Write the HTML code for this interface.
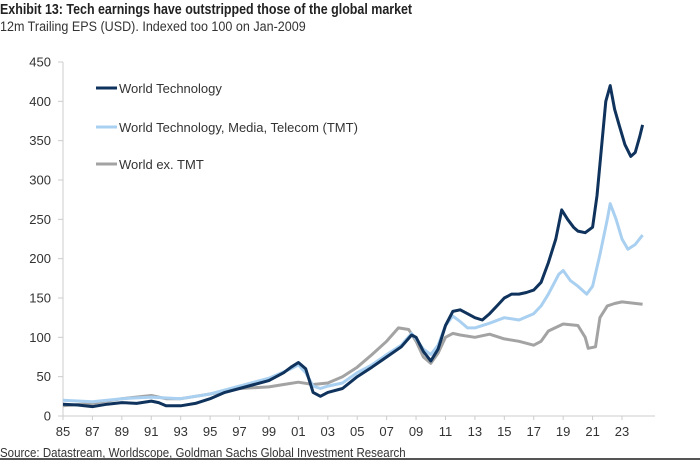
<!DOCTYPE html>
<html><head><meta charset="utf-8"><style>
body{margin:0;background:#fff;width:700px;height:467px;overflow:hidden;font-family:"Liberation Sans",sans-serif}
.t{position:absolute;left:0;white-space:nowrap;transform-origin:0 0}
</style></head><body>
<div class="t" style="top:1px;font-weight:bold;font-size:15px;color:#222;transform:scaleX(0.83)">Exhibit 13: Tech earnings have outstripped those of the global market</div>
<div class="t" style="top:19px;font-size:13.5px;color:#333;transform:scaleX(0.93)">12m Trailing EPS (USD). Indexed too 100 on Jan-2009</div>
<svg id="c" width="700" height="467" style="position:absolute;left:0;top:0"></svg>
<div class="t" style="top:446px;font-size:12.5px;color:#333;transform:scaleX(0.92)">Source: Datastream, Worldscope, Goldman Sachs Global Investment Research</div>
<div style="position:absolute;left:0;top:458px;width:700px;height:2px;background:#555"></div>
<script>
const yTicks=[0,50,100,150,200,250,300,350,400,450];
const xTickYears=[1985,1987,1989,1991,1993,1995,1997,1999,2001,2003,2005,2007,2009,2011,2013,2015,2017,2019,2021,2023];
const xTickLabels=["85","87","89","91","93","95","97","99","01","03","05","07","09","11","13","15","17","19","21","23"];
const techX=[1985,1986,1987,1988,1989,1990,1991,1991.5,1992,1993,1994,1995,1996,1997,1998,1999,2000,2000.5,2001,2001.5,2002,2002.5,2003,2004,2005,2006,2007,2008,2008.7,2009,2009.5,2010,2010.5,2011,2011.5,2012,2012.5,2013,2013.5,2014,2014.5,2015,2015.5,2016,2016.5,2017,2017.5,2018,2018.5,2018.9,2019.3,2019.7,2020,2020.5,2021,2021.3,2021.6,2021.9,2022.2,2022.5,2022.8,2023.2,2023.6,2023.9,2024.2,2024.4];
const techY=[15,14,12,15,17,16,19,17,13,13,16,22,30,35,40,45,55,62,68,60,30,25,30,35,50,62,75,88,103,100,82,70,85,115,133,135,130,125,122,130,140,150,155,155,157,160,170,195,225,262,250,240,235,233,240,280,340,400,420,390,370,345,330,335,355,370];
const tmtX=[1985,1987,1989,1991,1993,1995,1997,1999,2000.5,2001,2001.5,2002,2002.5,2003,2004,2005,2006,2007,2008,2008.7,2009,2009.5,2010,2010.5,2011,2011.5,2012,2012.5,2013,2014,2015,2016,2017,2017.5,2018,2018.7,2019,2019.5,2020,2020.6,2021,2021.5,2022,2022.2,2022.6,2023,2023.4,2023.9,2024.4];
const tmtY=[20,18,22,24,22,28,38,48,60,65,55,38,35,38,42,55,65,78,90,105,98,85,78,90,115,127,120,112,112,118,125,122,130,140,155,180,185,172,165,155,165,205,250,270,250,225,212,218,230];
const exX=[1985,1987,1989,1991,1992,1993,1995,1997,1999,2000,2001,2002,2003,2004,2005,2006,2007,2007.8,2008.5,2009,2009.5,2010,2010.5,2011,2011.5,2012,2013,2014,2015,2016,2017,2017.5,2018,2019,2020,2020.5,2020.7,2021.2,2021.5,2022,2022.5,2023,2024.4];
const exY=[13,16,22,26,22,22,28,35,37,40,43,40,42,50,62,78,95,112,110,95,75,67,80,100,105,103,100,104,98,95,90,95,108,117,115,100,86,88,125,140,143,145,142];
const NS="http://www.w3.org/2000/svg",svg=document.getElementById('c');
const X=v=>63+(v-1985)*(559/38), Y=v=>416-v*(354/450);
function el(t,a){const e=document.createElementNS(NS,t);for(const k in a)e.setAttribute(k,a[k]);svg.appendChild(e);return e;}
let ax=el('line',{x1:63,x2:655,y1:416,y2:416,stroke:'#ccc'});

let ay=el('line',{x1:63,x2:63,y1:62,y2:416,stroke:'#ccc'});

yTicks.forEach(v=>{
 el('line',{x1:58,x2:63,y1:Y(v),y2:Y(v),stroke:'#ccc'});
 const t=el('text',{x:51,y:Y(v)+4.5,'text-anchor':'end','font-size':13,fill:'#333','font-family':'Liberation Sans'});
 t.textContent=v;
 
});
xTickYears.forEach((v,i)=>{
 el('line',{x1:X(v),x2:X(v),y1:416,y2:420,stroke:'#ccc'});
 const t=el('text',{x:X(v),y:436,'text-anchor':'middle','font-size':13,fill:'#333','font-family':'Liberation Sans'});
 t.textContent=xTickLabels[i];
 
});
function line(xs,ys,c,n){
 const p=el('polyline',{points:xs.map((x,i)=>X(x).toFixed(1)+','+Y(ys[i]).toFixed(1)).join(' '),fill:'none',stroke:c,'stroke-width':3,'stroke-linejoin':'round'});
 
}
line(exX,exY,'#a3a3a3','series-world-ex-tmt');
line(tmtX,tmtY,'#a9d0f0','series-world-tmt');
line(techX,techY,'#0f335c','series-world-technology');
[['World Technology','#0f335c',88],['World Technology, Media, Telecom (TMT)','#a9d0f0',127],['World ex. TMT','#a3a3a3',164]].forEach(([s,c,y])=>{
 const g=el('g',{});
 
 const l=document.createElementNS(NS,'line');
 [['x1',96],['x2',117],['y1',y],['y2',y],['stroke',c],['stroke-width',3]].forEach(([k,v])=>l.setAttribute(k,v));g.appendChild(l);
 const t=document.createElementNS(NS,'text');
 [['x',119],['y',y+5],['font-size',13],['fill','#333'],['font-family','Liberation Sans']].forEach(([k,v])=>t.setAttribute(k,v));
 t.textContent=s;g.appendChild(t);
});
</script>
</body></html>
